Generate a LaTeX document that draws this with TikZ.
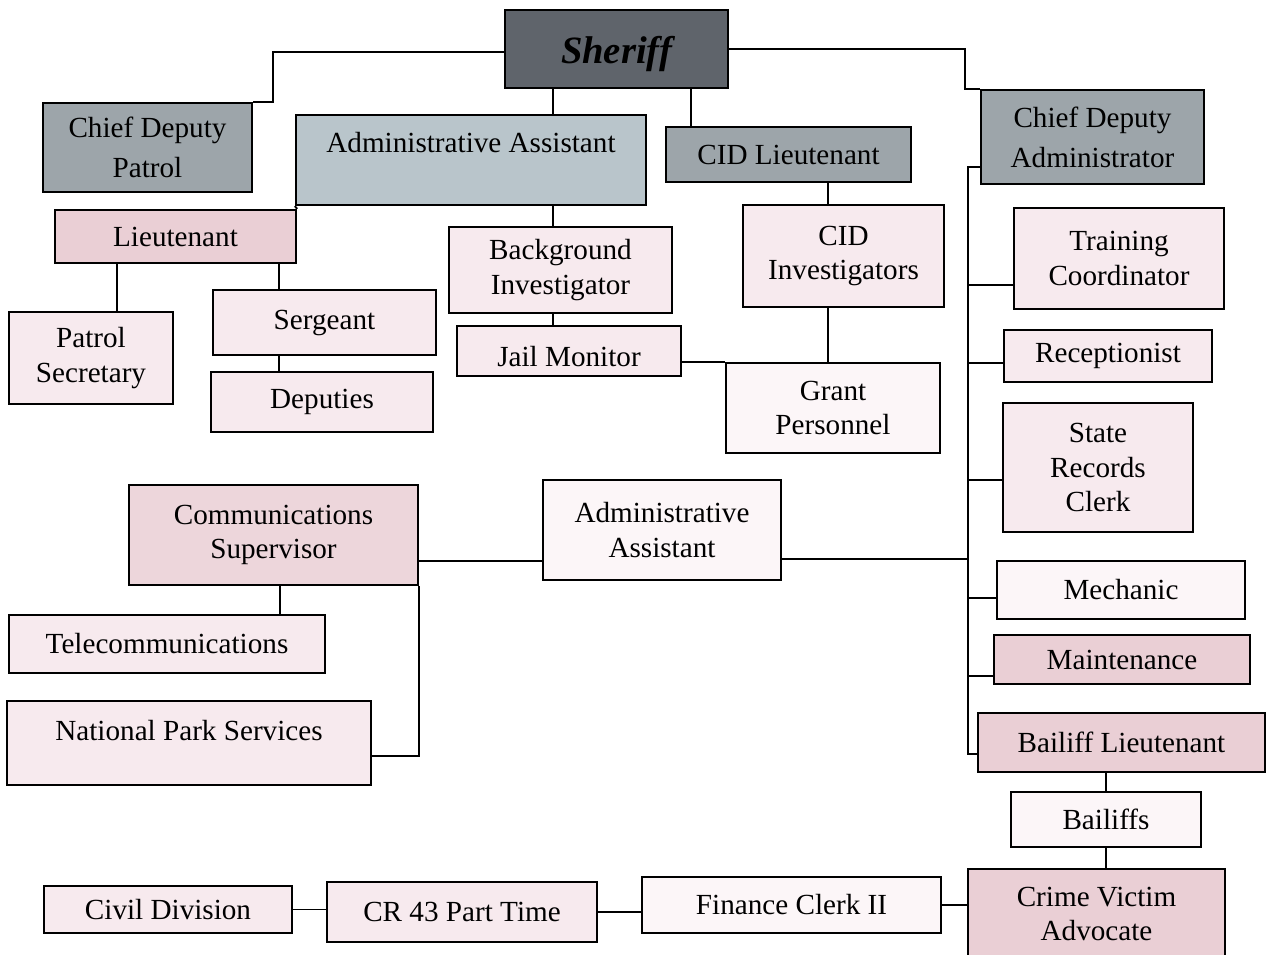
\documentclass[tikz,border=0pt]{standalone}
\usepackage{fontspec}
\setmainfont{Liberation Serif}
\usetikzlibrary{calc}
\definecolor{sheriffgray}{HTML}{5F646B}
\definecolor{chiefgray}{HTML}{9DA5AA}
\definecolor{assistblue}{HTML}{B9C5CB}
\definecolor{rosepink}{HTML}{EACFD5}
\definecolor{palepink}{HTML}{F7EAEE}
\definecolor{whitepink}{HTML}{FCF6F8}
\tikzset{
	box/.style = {draw, line width=1.3pt, inner sep=0pt, align=center, font=\fontsize{16.6}{19.8}\selectfont},
	chief/.style = {box, fill=chiefgray, font=\fontsize{16.6}{22.8}\selectfont},
	rose/.style = {box, fill=rosepink},
	pale/.style = {box, fill=palepink},
	plain/.style = {box, fill=whitepink},
	link/.style = {line width=1.1pt}
}
\begin{document}
\begin{tikzpicture}[x=0.02cm, y=-0.02cm]
		\clip (0,0) rectangle (1269,955);
		\fill[white] (0,0) rectangle (1269,955);
		
		% Top
		\node[box, fill=sheriffgray, minimum width=4.46cm, minimum height=1.56cm, font=\fontsize{22}{26}\selectfont\bfseries\itshape] (sheriff) at (616.5,49) {\raisebox{-3pt}[\height][\depth]{Sheriff}};
		\node[chief, minimum width=4.18cm, minimum height=1.78cm] (cdpatrol) at (147.5,147.5) {Chief Deputy\\Patrol};
		\node[box, fill=assistblue, minimum width=7cm, minimum height=1.8cm] (admintop) at (471,160) {\raisebox{10pt}[\height][\depth]{Administrative Assistant}};
		\node[chief, minimum width=4.9cm, minimum height=1.1cm] (cidlt) at (788.5,154.5) {CID Lieutenant};
		\node[chief, minimum width=4.46cm, minimum height=1.88cm] (cdadmin) at (1092.5,137) {Chief Deputy\\Administrator};
		
		% Patrol side
		\node[rose, minimum width=4.82cm, minimum height=1.06cm] (lieut) at (175.5,236.5) {Lieutenant};
		\node[pale, minimum width=3.28cm, minimum height=1.84cm] (patsec) at (91,358) {Patrol\\Secretary};
		\node[pale, minimum width=4.46cm, minimum height=1.3cm] (sergeant) at (324.5,322.5) {Sergeant};
		\node[pale, minimum width=4.44cm, minimum height=1.2cm] (deputies) at (322,402) {Deputies};
		
		% Middle column
		\node[pale, minimum width=4.46cm, minimum height=1.72cm] (bginv) at (560.5,270) {Background\\Investigator};
		\node[pale, minimum width=4.48cm, minimum height=1cm] (jail) at (569,351) {\raisebox{-3pt}[\height][\depth]{Jail Monitor}};
		\node[pale, minimum width=4.02cm, minimum height=2.04cm] (cidinv) at (843.5,256) {CID\\Investigators};
		\node[plain, minimum width=4.28cm, minimum height=1.8cm] (grant) at (833,408) {Grant\\Personnel};
		
		% Right column
		\node[pale, minimum width=4.2cm, minimum height=2.02cm] (training) at (1119,258.5) {Training\\Coordinator};
		\node[pale, minimum width=4.16cm, minimum height=1.04cm] (recept) at (1108,356) {Receptionist};
		\node[pale, minimum width=3.8cm, minimum height=2.58cm] (staterec) at (1098,467.5) {State\\Records\\Clerk};
		\node[plain, minimum width=4.96cm, minimum height=1.16cm] (mechanic) at (1121,590) {Mechanic};
		\node[rose, minimum width=5.12cm, minimum height=0.98cm] (maint) at (1122,659.5) {Maintenance};
		\node[rose, minimum width=5.74cm, minimum height=1.18cm] (bailifflt) at (1121.5,742.5) {Bailiff Lieutenant};
		\node[plain, minimum width=3.8cm, minimum height=1.1cm] (bailiffs) at (1106,819.5) {Bailiffs};
		\node[rose, minimum width=5.14cm, minimum height=1.8cm] (victim) at (1096.5,914) {Crime Victim\\Advocate};
		
		% Communications
		\node[rose, fill=rosepink!85!white, minimum width=5.78cm, minimum height=2cm] (comms) at (273.5,535) {Communications\\Supervisor};
		\node[plain, minimum width=4.76cm, minimum height=2cm] (adminmid) at (662,530) {Administrative\\Assistant};
		\node[pale, minimum width=6.32cm, minimum height=1.16cm] (telecom) at (167,644) {Telecommunications};
		\node[pale, minimum width=7.28cm, minimum height=1.68cm] (nps) at (189,743) {\raisebox{7pt}[\height][\depth]{National Park Services}};
		
		% Bottom row
		\node[pale, minimum width=4.96cm, minimum height=0.94cm] (civil) at (168,909.5) {Civil Division};
		\node[pale, minimum width=5.4cm, minimum height=1.2cm] (cr43) at (462,912) {CR 43 Part Time};
		\node[plain, minimum width=5.98cm, minimum height=1.12cm] (finance) at (791.5,905) {Finance Clerk II};
		
		% Lines from the sheriff
		\draw[link] ($(sheriff.west)+(0,3)$) -| ($(cdpatrol.north east)+(20,0)$) -- (cdpatrol.north east);
		\draw[link] ($(sheriff.south west)+(49,0)$) coordinate (s1) -- (s1 |- admintop.north);
		\draw[link] ($(sheriff.south west)+(187,0)$) coordinate (s2) -- (s2 |- cidlt.north);
		\draw[link] (sheriff.east) -| ($(cdadmin.north west)+(-15,0)$) -- (cdadmin.north west);
		
		% Patrol lines
		\draw[link] (admintop.south west) -- (lieut.north east);
		\draw[link] ($(lieut.south west)+(63,0)$) coordinate (l1) -- (l1 |- patsec.north);
		\draw[link] ($(lieut.south west)+(225,0)$) coordinate (l2) -- (l2 |- sergeant.north);
		\draw[link] (l2 |- sergeant.south) -- (l2 |- deputies.north);
		
		% Middle lines
		\draw[link] (s1 |- admintop.south) -- (s1 |- bginv.north);
		\draw[link] (s1 |- bginv.south) -- (s1 |- jail.north);
		\draw[link] ($(cidlt.south west)+(163,0)$) coordinate (c1) -- (c1 |- cidinv.north);
		\draw[link] (c1 |- cidinv.south) -- (c1 |- grant.north);
		\draw[link] (jail.east |- grant.north west) -- (grant.north west);
		
		% Right bus
		\coordinate (bus) at ($(cdadmin.south west)+(-12,-18)$);
		\draw[link] ($(cdadmin.south west)+(0,-18)$) -- (bus) |- ($(bailifflt.south west)+(0,-19)$);
		\foreach \n/\dy in {training/25, recept/20, staterec/53, mechanic/22, maint/9}
		{
			\draw[link] ($(\n.south west)+(0,-\dy)$) coordinate (br) -- (bus |- br);
		}
		\draw[link] ($(adminmid.south east)+(0,-22)$) coordinate (am) -- (bus |- am);
		\draw[link] (bailiffs.north |- bailifflt.south) -- (bailiffs.north);
		\draw[link] (bailiffs.south) -- (bailiffs.south |- victim.north);
		
		% Communications lines
		\draw[link] ($(comms.south east)+(0,-25)$) -- ($(adminmid.south west)+(0,-20)$);
		\draw[link] ($(comms.south west)+(152,0)$) coordinate (t1) -- (t1 |- telecom.north);
		\draw[link] (comms.south east) |- ($(nps.south east)+(0,-30)$);
		
		% Bottom lines
		\draw[link] (civil.east) -- (civil.east -| cr43.west);
		\draw[link] (cr43.east) -- (cr43.east -| finance.west);
		\draw[link] (finance.east) -- (finance.east -| victim.west);
	\end{tikzpicture}
\end{document}
